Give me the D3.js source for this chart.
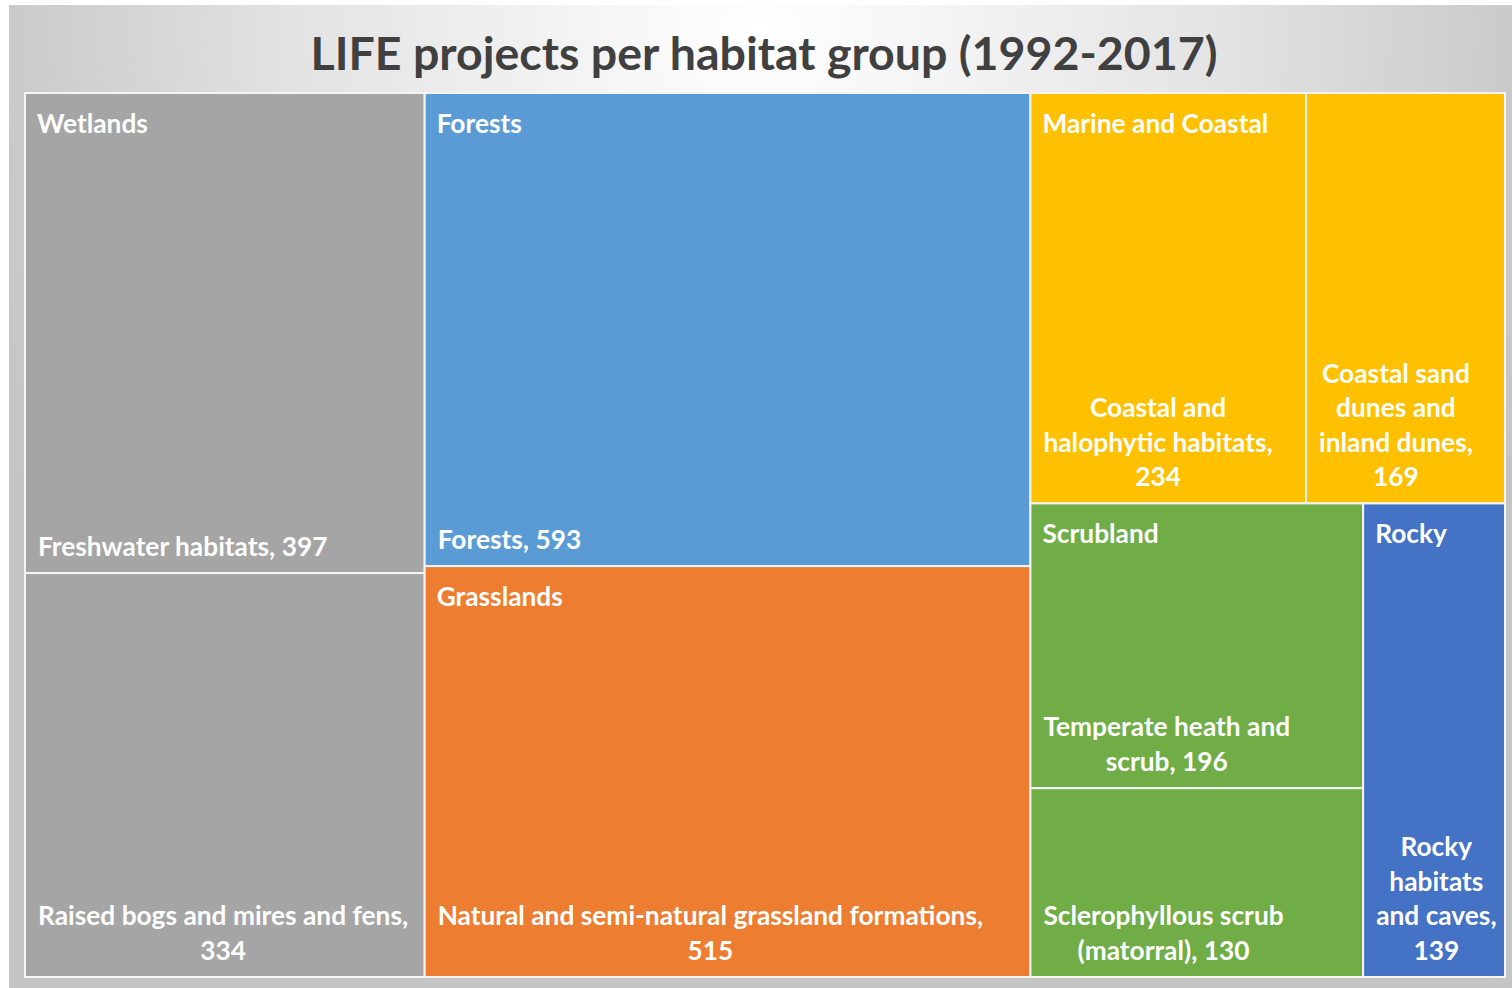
<!DOCTYPE html>
<html>
<head>
<meta charset="utf-8">
<script src="https://cdn.jsdelivr.net/npm/d3@7"></script>
<style>
  html, body { margin: 0; padding: 0; background: #fff; }
  svg { display: block; }
</style>
</head>
<body>
<svg width="1512" height="988"></svg>
<script>
// data
var groups = ["Wetlands", "Forests", "Grasslands", "Marine and Coastal", "Scrubland", "Rocky"];
var groupColors = ["#A5A5A5", "#5B9BD5", "#ED7D31", "#FFC000", "#70AD47", "#4472C4"];
var habitats = [
    "Freshwater habitats", "Raised bogs and mires and fens", "Forests",
    "Natural and semi-natural grassland formations", "Coastal and halophytic habitats",
    "Coastal sand dunes and inland dunes", "Temperate heath and scrub",
    "Sclerophyllous scrub (matorral)", "Rocky habitats and caves"];
var habitatGroup = ["Wetlands", "Wetlands", "Forests", "Grasslands", "Marine and Coastal",
    "Marine and Coastal", "Scrubland", "Scrubland", "Rocky"];
var projects = [397, 334, 593, 515, 234, 169, 196, 130, 139];
// number of groups stacked in each column of the top level
var columnSizes = [1, 2, 3];

var svg = d3.select("svg")
    , width = +svg.attr("width")
    , height = +svg.attr("height");

var defs = svg.append("defs");
var grad = defs.append("radialGradient").attr("id", "bg")
    .attr("gradientUnits", "userSpaceOnUse")
    .attr("cx", 760).attr("cy", 30).attr("r", 900)
    .attr("gradientTransform", "translate(760,30) scale(1,0.9) translate(-760,-30)");
grad.append("stop").attr("offset", "0").attr("stop-color", "#ffffff");
grad.append("stop").attr("offset", "0.5").attr("stop-color", "#e4e4e4");
grad.append("stop").attr("offset", "0.85").attr("stop-color", "#c9c9c9");
grad.append("stop").attr("offset", "1").attr("stop-color", "#c4c4c4");

svg.append("rect").attr("x", 9).attr("y", 5).attr("width", width - 9).attr("height", height - 5)
    .attr("fill", "url(#bg)");

svg.append("text")
    .attr("x", 764).attr("y", 70)
    .attr("text-anchor", "middle")
    .style("font-family", "Lato, 'Open Sans', sans-serif")
    .style("font-weight", "bold")
    .style("font-size", "46.5px")
    .attr("fill", "#404040")
    .text("LIFE projects per habitat group (1992-2017)");

var tree = {
    name: "root",
    children: groups.map(function (g) {
        return {
            name: g,
            children: habitats.map(function (h, i) {
                return {name: h, group: habitatGroup[i], value: projects[i]};
            }).filter(function (d) { return d.group === g; })
        };
    })
};

var squarify = d3.treemapSquarify.ratio(1);

function tile(node, x0, y0, x1, y1) {
    if (node.depth > 0) return squarify(node, x0, y0, x1, y1);
    var i = 0, x = x0;
    columnSizes.forEach(function (n) {
        var kids = node.children.slice(i, i + n);
        i += n;
        var v = d3.sum(kids, function (d) { return d.value; });
        var xe = x + (x1 - x0) * v / node.value;
        squarify({children: kids, value: v}, x, y0, xe, y1);
        x = xe;
    });
}

var root = d3.hierarchy(tree).sum(function (d) { return d.value || 0; });
d3.treemap().tile(tile).size([1480, 884])(root);

var color = d3.scaleOrdinal(groups, groupColors);
var g = svg.append("g").attr("transform", "translate(25,93)");
var font = "Lato, 'Open Sans', sans-serif";
var fontSize = "26.3px";

var leaf = g.selectAll(".leaf").data(root.leaves()).enter().append("g").attr("class", "leaf");
leaf.append("rect")
    .attr("x", function (d) { return d.x0; })
    .attr("y", function (d) { return d.y0; })
    .attr("width", function (d) { return d.x1 - d.x0; })
    .attr("height", function (d) { return d.y1 - d.y0; })
    .attr("fill", function (d) { return color(d.data.group); })
    .attr("stroke", "#f4f4f4")
    .attr("stroke-width", 2);

// group labels
g.selectAll(".glabel").data(root.children).enter().append("text")
    .attr("x", function (d) { return d.x0 + 12; })
    .attr("y", function (d) { return d.y0 + 40; })
    .style("font-family", font).style("font-weight", "bold").style("font-size", fontSize)
    .attr("fill", "#fff")
    .text(function (d) { return d.data.name; });

// leaf labels, wrapped and bottom aligned
var lineH = 34.4;
leaf.each(function (d) {
    var sel = d3.select(this);
    var maxW = d.x1 - d.x0 - 18;
    var words = (d.data.name + ", " + d.data.value).split(" ");
    var t = sel.append("text")
        .style("font-family", font).style("font-weight", "bold").style("font-size", fontSize)
        .attr("fill", "#fff").attr("text-anchor", "middle");
    var lines = [], cur = [];
    var probe = t.append("tspan");
    words.forEach(function (w) {
        var test = cur.concat([w]).join(" ");
        probe.text(test);
        if (probe.node().getComputedTextLength() > maxW && cur.length) {
            lines.push(cur.join(" "));
            cur = [w];
        } else {
            cur.push(w);
        }
    });
    lines.push(cur.join(" "));
    var blockW = 0;
    lines.forEach(function (l) {
        probe.text(l);
        blockW = Math.max(blockW, probe.node().getComputedTextLength());
    });
    probe.remove();
    var cx = d.x0 + 13 + blockW / 2;
    var yLast = d.y1 - 17.5;
    lines.forEach(function (l, i) {
        t.append("tspan").attr("x", cx)
            .attr("y", yLast - (lines.length - 1 - i) * lineH)
            .text(l);
    });
});
</script>
</body>
</html>
